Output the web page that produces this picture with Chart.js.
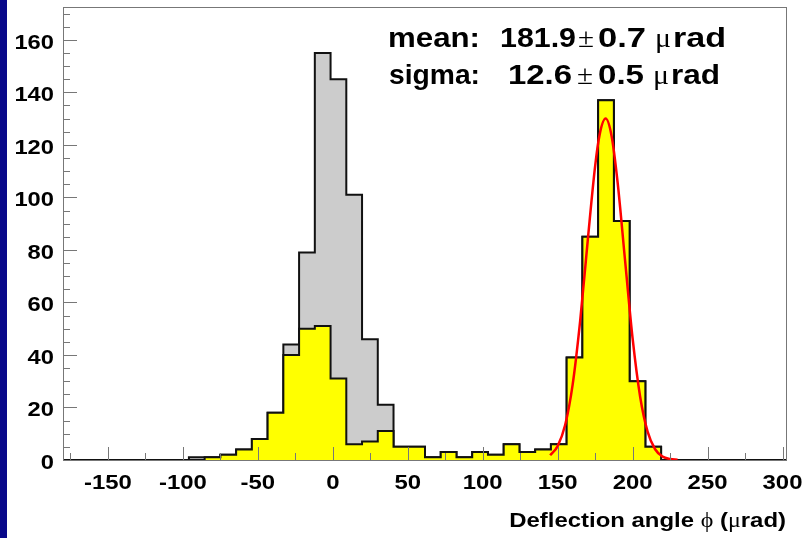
<!DOCTYPE html>
<html>
<head>
<meta charset="utf-8">
<script src="https://cdn.jsdelivr.net/npm/chart.js@4.4.1/dist/chart.umd.min.js"></script>
<style>
  html, body { margin: 0; padding: 0; background: #fff; }
  canvas { display: block; }
</style>
</head>
<body>
<canvas id="deflChart" width="806" height="538"></canvas>
<script>
  // binning of the histograms: 46 bins of 10.5 urad starting at -180
  const binStart = -180;
  const binWidth = 10.5;

  // all events (grey) and selected events (yellow), counts per bin
  const allCounts = [0, 0, 0, 0, 0, 0, 0, 0, 1, 1, 2, 4, 8, 18, 44, 79, 155, 145, 101, 46, 21, 5, 5,
    1, 3, 1, 3, 2, 6, 3, 4, 6, 39, 85, 137, 91, 30, 5, 0, 0, 0, 0, 0, 0, 0, 0];
  const selCounts = [0, 0, 0, 0, 0, 0, 0, 0, 0, 1, 2, 4, 8, 18, 40, 50, 51, 31, 6, 7, 11, 5, 5,
    1, 3, 1, 3, 2, 6, 3, 4, 6, 39, 85, 137, 91, 30, 5, 0, 0, 0, 0, 0, 0, 0, 0];

  // gaussian fit curve
  const fitX = [145, 150, 155, 160, 165, 170, 175, 178, 182, 186, 190, 195, 200, 205, 210, 215, 220, 225, 230];
  const fitY = [1.8, 5.3, 13.3, 28.7, 52.9, 83.2, 111.9, 123.9, 130.0, 123.3, 105.7, 75.8, 46.3, 24.2, 10.8, 4.1, 1.3, 0.4, 0.1];

  // axis tick labels
  const xTickLabels = [-150, -100, -50, 0, 50, 100, 150, 200, 250, 300];
  const yTickLabels = [0, 20, 40, 60, 80, 100, 120, 140, 160];

  // fit results: text, left and right edge of each piece, font kind
  const fitText = [
    [["mean:", 388, 480, "b"], ["181.9", 500, 576, "b"], ["\u00b1", 578, 594, "s"], ["0.7", 598, 646, "b"], ["\u03bc", 655, 671, "s"], ["rad", 673, 726, "b"]],
    [["sigma:", 389, 480, "b"], ["12.6", 508, 572, "b"], ["\u00b1", 577, 593, "s"], ["0.5", 598, 644, "b"], ["\u03bc", 653, 669, "s"], ["rad", 671, 720, "b"]]
  ];

  const toSteps = (counts) => {
    const pts = counts.map((c, i) => ({ x: binStart + i * binWidth, y: c }));
    pts.push({ x: binStart + counts.length * binWidth, y: 0 });
    return pts;
  };

  const BOLD = '"Liberation Sans", Arial, Helvetica, sans-serif';
  const SERIF = '"Liberation Serif", "DejaVu Serif", serif';
  const fontOf = (k, size) => (k === "b" ? "bold " + size + "px " + BOLD : size + "px " + SERIF);

  // text is drawn a bit wider than the font, like the original
  const wideText = (ctx, text, x, y, align, font, sx) => {
    ctx.save();
    ctx.font = font;
    const w = ctx.measureText(text).width * sx;
    const x0 = align === "right" ? x - w : align === "center" ? x - w / 2 : x;
    ctx.translate(x0, y);
    ctx.scale(sx, 1);
    ctx.textAlign = "left";
    ctx.textBaseline = "alphabetic";
    ctx.fillText(text, 0, 0);
    ctx.restore();
    return w;
  };

  const sideBar = {
    id: "sideBar",
    beforeDraw(chart) {
      const ctx = chart.ctx;
      ctx.save();
      ctx.fillStyle = "#fff";
      ctx.fillRect(0, 0, chart.width, chart.height);
      ctx.fillStyle = "#08088a";
      ctx.fillRect(0, 0, 7, chart.height);
      ctx.restore();
    }
  };

  // ROOT style frame with ticks pointing inwards
  const frameTicks = {
    id: "frameTicks",
    afterDatasetsDraw(chart) {
      const { ctx, chartArea: a, scales: { x, y } } = chart;
      ctx.save();
      ctx.strokeStyle = "#777";
      ctx.lineWidth = 1;
      ctx.strokeRect(a.left + 0.5, a.top + 0.5, a.right - a.left - 1, a.bottom - a.top);
      ctx.beginPath();
      for (let v = 0; v <= 170; v += 5) {
        const py = Math.round(y.getPixelForValue(v)) + 0.5;
        const len = v % 20 === 0 ? 14 : 7;
        ctx.moveTo(a.left, py);
        ctx.lineTo(a.left + len, py);
      }
      for (let v = -175; v <= 300; v += 25) {
        const px = Math.round(x.getPixelForValue(v)) + 0.5;
        const len = v % 50 === 0 ? 13 : 7;
        ctx.moveTo(px, a.bottom);
        ctx.lineTo(px, a.bottom - len);
      }
      ctx.stroke();
      ctx.restore();
    },
    afterDraw(chart) {
      const { ctx, chartArea: a, scales: { x, y } } = chart;
      ctx.save();
      ctx.fillStyle = "#000";
      const tickFont = "bold 21px " + BOLD;
      yTickLabels.forEach((v) => {
        wideText(ctx, String(v), a.left - 9, y.getPixelForValue(v) + 9, "right", tickFont, 1.13);
      });
      xTickLabels.forEach((v) => {
        wideText(ctx, String(v), x.getPixelForValue(v), 488.5, "center", tickFont, 1.14);
      });

      // axis title, mixed fonts
      const parts = [["Deflection angle ", "b"], ["\u03d5", "s"], [" (", "b"], ["\u03bc", "s"], ["rad)", "b"]];
      let total = 0;
      parts.forEach(([t, k]) => { ctx.font = fontOf(k, 21); total += ctx.measureText(t).width * 1.14; });
      let cx = 786 - total;
      parts.forEach(([t, k]) => { cx += wideText(ctx, t, cx, 527, "left", fontOf(k, 21), 1.14); });

      // fit results, each piece stretched to its span
      const baselines = [47, 83.5];
      fitText.forEach((line, i) => {
        line.forEach(([t, x0, x1, k]) => {
          ctx.font = fontOf(k, 28);
          const sx = (x1 - x0) / ctx.measureText(t).width;
          wideText(ctx, t, x0, baselines[i], "left", fontOf(k, 28), sx);
        });
      });
      ctx.restore();
    }
  };

  window.addEventListener("load", () => {
    const ctx = document.getElementById("deflChart");

    new Chart(ctx, {
      type: "line",
      data: {
        datasets: [
          {
            label: "fit",
            data: fitX.map((v, i) => ({ x: v, y: fitY[i] })),
            borderColor: "#ff0000",
            borderWidth: 2.5,
            fill: false,
            cubicInterpolationMode: "monotone"
          },
          {
            label: "selected",
            data: toSteps(selCounts),
            stepped: true,
            borderColor: "#111",
            borderWidth: 2,
            backgroundColor: "#ffff00",
            fill: "origin"
          },
          {
            label: "all",
            data: toSteps(allCounts),
            stepped: true,
            borderColor: "#111",
            borderWidth: 2,
            backgroundColor: "#cccccc",
            fill: "origin"
          }
        ]
      },
      options: {
        responsive: false,
        animation: false,
        devicePixelRatio: 1,
        layout: { padding: { left: 63, right: 19, top: 7, bottom: 78 } },
        elements: { point: { radius: 0 }, line: { tension: 0 } },
        plugins: {
          legend: { display: false },
          tooltip: { enabled: false }
        },
        scales: {
          x: { type: "linear", min: -180, max: 303, display: false },
          y: { type: "linear", min: 0, max: 172.5, display: false }
        }
      },
      plugins: [sideBar, frameTicks]
    });
  });
</script>
</body>
</html>
